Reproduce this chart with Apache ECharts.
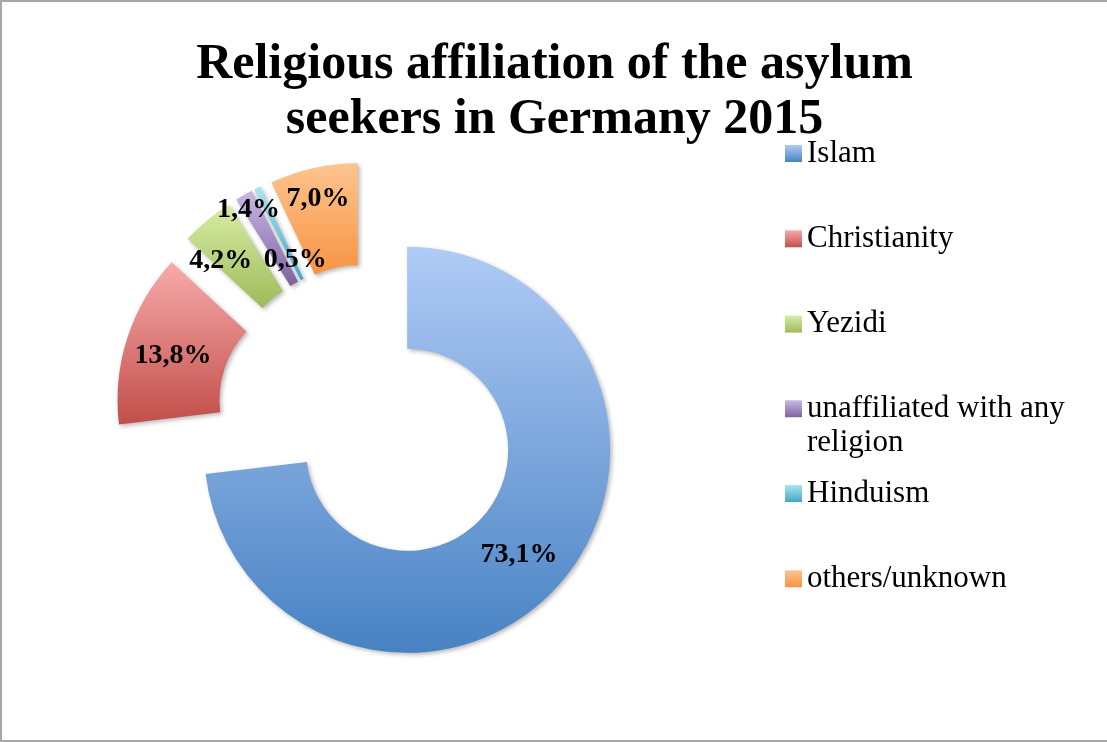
<!DOCTYPE html>
<html>
<head>
<meta charset="utf-8">
<script src="https://cdn.jsdelivr.net/npm/echarts@6/dist/echarts.min.js"></script>
<style>
html,body{margin:0;padding:0;background:#fff;}
#chart{width:1107px;height:742px;box-sizing:border-box;border-left:2px solid #a6a6a6;border-top:2px solid #a6a6a6;border-bottom:2px solid #a6a6a6;}
</style>
</head>
<body>
<div id="chart"></div>
<script>
// ---- data ----
const categories = ['Islam', 'Christianity', 'Yezidi', 'unaffiliated with any religion', 'Hinduism', 'others/unknown'];
const shares = [73.1, 13.8, 4.2, 1.4, 0.5, 7.0];
const titleText = 'Religious affiliation of the asylum\nseekers in Germany 2015';

// ---- styling ----
const gradTop = ['#b0cbf6', '#f7abaa', '#d8eca6', '#c9b8e4', '#a9e4f5', '#fdc490'];
const gradBottom = ['#4882c3', '#c24e4a', '#9dbb58', '#7e62a1', '#44a8c4', '#f79443'];
// manual label nudges (Excel-style hand-placed labels for thin slices)
const labelNudge = [[-4, 2], [0, 3], [-17, 3], [-19, -27], [17, 29], [-6, -16]];

function grad(i) {
  return new echarts.graphic.LinearGradient(0, 0, 0, 1, [
    { offset: 0, color: gradTop[i] },
    { offset: 1, color: gradBottom[i] }
  ]);
}

const chart = echarts.init(document.getElementById('chart'), null, { renderer: 'canvas' });

const seriesData = categories.map((name, i) => ({
  name: name,
  value: shares[i],
  selected: true,
  itemStyle: { color: grad(i) }
}));

const legendText = {
  fontFamily: "'Liberation Serif', serif",
  fontSize: 31,
  lineHeight: 33,
  color: '#000'
};
const legendBase = {
  orient: 'vertical',
  left: 783,
  padding: 0,
  itemWidth: 17,
  itemHeight: 17,
  itemGap: 52.3,
  icon: 'rect',
  selectedMode: false
};

const option = {
  animation: false,
  backgroundColor: '#ffffff',
  title: {
    text: titleText,
    left: 'center',
    top: 31,
    textStyle: {
      fontFamily: "'Liberation Serif', serif",
      fontWeight: 'bold',
      fontSize: 50,
      lineHeight: 55,
      color: '#000'
    }
  },
  legend: [
    Object.assign({}, legendBase, { top: 135, data: categories.slice(0, 3), textStyle: legendText }),
    Object.assign({}, legendBase, {
      top: 355,
      data: categories.slice(3, 4),
      // leading blank line keeps the first text line level with the icon
      formatter: function (n) { return '\n' + n.replace(' any ', ' any\n'); },
      textStyle: Object.assign({}, legendText, { lineHeight: 34.5 })
    }),
    Object.assign({}, legendBase, { top: 475, data: categories.slice(4), textStyle: legendText })
  ],
  series: [{
    type: 'pie',
    center: [367, 414],
    radius: [101, 203],
    startAngle: 90,
    clockwise: true,
    selectedMode: 'multiple',
    selectedOffset: 51,
    avoidLabelOverlap: false,
    silent: true,
    itemStyle: {
      borderWidth: 0,
      shadowBlur: 4,
      shadowOffsetX: 2,
      shadowOffsetY: 2,
      shadowColor: 'rgba(0,0,0,0.28)'
    },
    emphasis: { disabled: true },
    select: { disabled: false, itemStyle: { shadowBlur: 4, shadowOffsetX: 2, shadowOffsetY: 2, shadowColor: 'rgba(0,0,0,0.28)' } },
    label: {
      show: true,
      position: 'inside',
      fontFamily: "'Liberation Serif', serif",
      fontWeight: 'bold',
      fontSize: 28,
      color: '#000',
      formatter: function (p) { return p.value.toFixed(1).replace('.', ',') + '%'; }
    },
    labelLine: { show: false },
    labelLayout: function (p) {
      const d = labelNudge[p.dataIndex];
      return { dx: d[0], dy: d[1] };
    },
    data: seriesData
  }]
};
chart.setOption(option);
</script>
</body>
</html>
